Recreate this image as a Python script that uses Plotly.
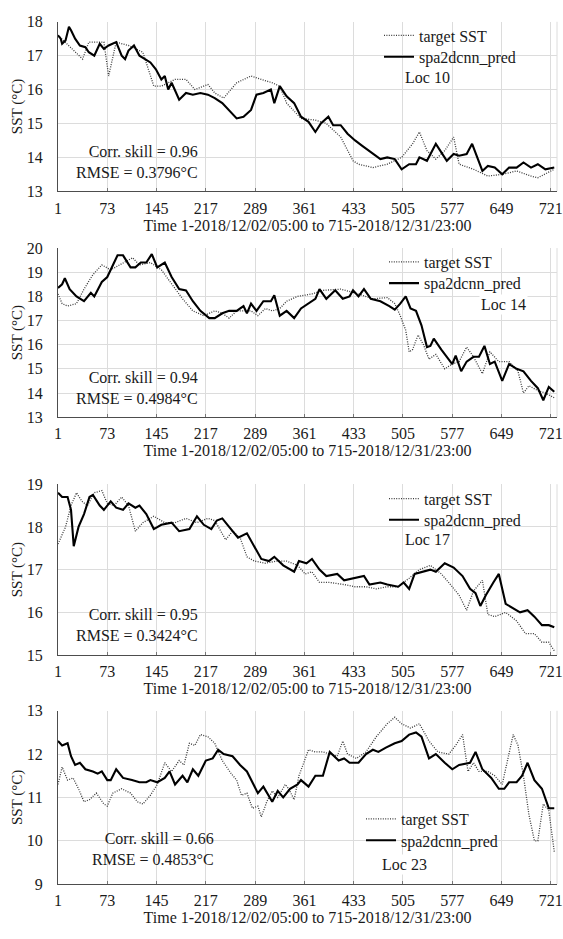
import plotly.graph_objects as go

# ---------------- data ----------------
x_ticks = [1, 73, 145, 217, 289, 361, 433, 505, 577, 649, 721]
x_title = "Time 1-2018/12/02/05:00 to 715-2018/12/31/23:00"

loc_names = ["Loc 10", "Loc 14", "Loc 17", "Loc 23"]
corr_skill = ["0.96", "0.94", "0.95", "0.66"]
rmse = ["0.3796", "0.4984", "0.3424", "0.4853"]
y_ranges = [[13, 18], [13, 20], [15, 19], [9, 13]]

# Loc 10
loc10_target_t = [1, 10, 37, 46, 68, 75, 86, 104, 125, 141, 152, 172, 188, 201, 220, 230, 243, 262, 283, 298, 314, 325, 335, 356, 377, 393, 414, 432, 440, 461, 482, 503, 519, 529, 540, 553, 566, 579, 587, 608, 629, 650, 671, 692, 702, 726]
loc10_target = [17.6, 17.42, 16.9, 17.4, 17.4, 16.4, 17.4, 17.3, 17.1, 16.1, 16.1, 16.3, 16.3, 16.0, 16.15, 15.9, 15.75, 16.2, 16.4, 16.3, 16.2, 16.1, 15.6, 15.15, 15.1, 15.0, 14.6, 13.9, 13.8, 13.7, 13.8, 14.0, 14.4, 14.75, 14.2, 13.95, 14.2, 14.6, 13.8, 13.65, 13.45, 13.5, 13.6, 13.45, 13.4, 13.65]
loc10_pred_t = [1, 5, 7, 12, 17, 20, 26, 33, 41, 46, 54, 62, 68, 75, 86, 94, 99, 104, 112, 120, 136, 144, 152, 157, 162, 167, 178, 188, 198, 209, 220, 230, 241, 251, 262, 272, 283, 291, 301, 312, 317, 325, 335, 346, 356, 367, 377, 385, 396, 403, 414, 424, 435, 445, 461, 472, 482, 493, 503, 514, 524, 529, 540, 553, 569, 579, 587, 598, 606, 613, 621, 629, 639, 650, 660, 671, 681, 692, 702, 713, 726]
loc10_pred = [17.6, 17.5, 17.35, 17.45, 17.85, 17.75, 17.5, 17.3, 17.25, 17.1, 17.0, 17.35, 17.2, 17.3, 17.4, 17.0, 16.9, 17.15, 17.3, 17.0, 16.8, 16.6, 16.3, 16.4, 16.0, 16.2, 15.7, 15.9, 15.85, 15.9, 15.85, 15.75, 15.6, 15.4, 15.15, 15.2, 15.4, 15.85, 15.9, 16.0, 15.6, 16.1, 15.8, 15.6, 15.2, 15.05, 14.75, 15.0, 15.2, 14.95, 14.95, 14.7, 14.5, 14.35, 14.1, 13.95, 14.0, 13.95, 13.65, 13.8, 13.8, 14.0, 13.9, 14.4, 13.9, 14.1, 14.05, 14.1, 14.4, 14.0, 13.6, 13.75, 13.7, 13.5, 13.7, 13.7, 13.85, 13.7, 13.8, 13.65, 13.7]

# Loc 14
loc14_target_t = [1, 7, 15, 28, 39, 52, 65, 78, 94, 110, 120, 136, 152, 167, 183, 198, 214, 230, 241, 251, 262, 283, 293, 304, 314, 325, 335, 351, 372, 388, 414, 440, 461, 482, 493, 501, 509, 514, 519, 527, 535, 543, 553, 566, 577, 587, 598, 608, 621, 632, 645, 660, 673, 681, 689, 702, 713, 726]
loc14_target = [18.1, 17.7, 17.6, 17.7, 18.3, 18.9, 19.3, 19.1, 19.35, 19.6, 19.3, 19.4, 19.1, 18.5, 17.9, 17.4, 17.2, 17.4, 17.3, 17.1, 17.4, 17.4, 17.2, 17.5, 17.4, 17.5, 17.8, 18.0, 18.1, 18.25, 18.3, 18.1, 17.9, 17.95, 17.7, 17.2, 16.6, 15.7, 15.8, 16.4, 16.0, 15.4, 15.6, 15.0, 15.2, 15.3, 15.9, 15.5, 14.8, 15.7, 15.3, 15.3, 14.9, 14.0, 14.3, 14.1, 14.0, 13.8]
loc14_pred_t = [1, 7, 11, 18, 28, 39, 49, 54, 65, 73, 83, 88, 96, 107, 114, 122, 130, 138, 146, 157, 167, 178, 188, 198, 209, 222, 230, 241, 251, 262, 272, 277, 283, 291, 301, 312, 317, 325, 335, 346, 356, 367, 377, 383, 393, 406, 417, 427, 432, 440, 448, 458, 472, 485, 493, 501, 509, 516, 524, 532, 540, 545, 550, 561, 569, 577, 582, 590, 598, 608, 616, 624, 632, 639, 650, 660, 671, 681, 692, 702, 710, 718, 726]
loc14_pred = [18.35, 18.5, 18.75, 18.3, 18.0, 17.8, 18.15, 18.0, 18.6, 18.8, 19.4, 19.7, 19.7, 19.2, 19.2, 19.4, 19.4, 19.75, 19.2, 19.4, 18.8, 18.3, 18.25, 17.8, 17.4, 17.1, 17.1, 17.3, 17.4, 17.4, 17.6, 17.3, 17.7, 17.4, 17.8, 17.8, 18.05, 17.2, 17.4, 17.1, 17.5, 17.7, 17.9, 18.3, 17.9, 18.25, 17.9, 18.0, 18.25, 18.0, 18.3, 17.9, 17.8, 17.6, 17.45, 17.7, 18.0, 17.5, 17.4, 16.8, 15.9, 15.95, 16.25, 15.8, 15.5, 15.2, 15.55, 14.9, 15.3, 15.5, 15.5, 15.95, 15.2, 15.3, 14.5, 15.2, 15.0, 14.9, 14.5, 14.2, 13.7, 14.25, 14.05]

# Loc 17
loc17_target_t = [1, 7, 12, 20, 28, 36, 44, 54, 65, 73, 83, 94, 104, 114, 125, 141, 157, 172, 188, 204, 220, 230, 246, 256, 267, 277, 288, 304, 320, 335, 351, 362, 372, 383, 398, 419, 435, 451, 466, 482, 498, 514, 529, 545, 561, 577, 587, 598, 608, 621, 629, 639, 655, 671, 684, 697, 708, 718, 726]
loc17_target = [17.6, 17.8, 18.0, 18.5, 18.8, 18.6, 18.5, 18.8, 18.85, 18.55, 18.5, 18.7, 18.5, 17.9, 18.1, 18.25, 18.1, 18.1, 18.2, 18.1, 18.2, 18.15, 17.7, 17.9, 17.75, 17.3, 17.2, 17.15, 17.2, 17.2, 17.1, 16.9, 16.95, 16.7, 16.7, 16.65, 16.6, 16.6, 16.55, 16.6, 16.6, 16.8, 17.0, 17.1, 16.9, 16.6, 16.4, 16.05, 16.5, 16.75, 15.95, 15.9, 16.0, 15.8, 15.5, 15.5, 15.3, 15.3, 15.1]
loc17_pred_t = [1, 7, 15, 20, 24, 31, 39, 47, 52, 62, 68, 78, 86, 96, 104, 114, 120, 130, 141, 152, 167, 178, 193, 204, 214, 225, 233, 241, 251, 264, 277, 288, 298, 309, 317, 330, 346, 353, 364, 372, 383, 393, 409, 419, 435, 448, 456, 472, 482, 498, 506, 514, 522, 535, 545, 553, 566, 579, 592, 603, 611, 618, 626, 637, 645, 655, 666, 676, 687, 697, 708, 718, 726]
loc17_pred = [18.8, 18.7, 18.7, 18.4, 17.55, 18.0, 18.3, 18.7, 18.75, 18.5, 18.4, 18.6, 18.45, 18.4, 18.55, 18.45, 18.5, 18.3, 17.95, 18.05, 18.1, 17.9, 17.95, 18.25, 18.05, 17.95, 18.15, 18.2, 18.0, 17.75, 17.85, 17.55, 17.25, 17.2, 17.3, 17.1, 16.95, 17.2, 17.15, 17.25, 17.0, 16.85, 16.9, 16.75, 16.8, 16.85, 16.65, 16.7, 16.65, 16.6, 16.7, 16.55, 16.9, 16.95, 17.0, 16.95, 17.15, 17.05, 16.85, 16.55, 16.45, 16.15, 16.4, 16.7, 16.9, 16.2, 16.1, 16.0, 16.05, 15.9, 15.7, 15.7, 15.65]

# Loc 23
loc23_target_t = [1, 7, 15, 23, 31, 39, 47, 57, 68, 73, 81, 94, 107, 117, 125, 136, 146, 157, 167, 178, 185, 193, 201, 209, 220, 230, 241, 254, 262, 269, 277, 285, 293, 298, 306, 314, 322, 333, 338, 346, 353, 367, 377, 388, 398, 409, 417, 424, 437, 451, 466, 482, 493, 503, 516, 529, 543, 556, 572, 582, 592, 600, 608, 616, 629, 639, 650, 658, 666, 673, 681, 689, 697, 702, 710, 718, 726]
loc23_target = [11.3, 11.7, 11.4, 11.45, 11.2, 10.9, 10.95, 11.1, 10.85, 10.8, 11.1, 11.2, 11.1, 10.9, 10.85, 11.05, 11.3, 11.8, 11.6, 11.85, 11.75, 12.25, 12.2, 12.45, 12.4, 12.25, 11.85, 11.55, 11.4, 11.05, 11.1, 10.75, 10.8, 10.55, 10.9, 11.15, 11.0, 11.3, 11.2, 10.95, 11.5, 12.1, 12.05, 12.05, 12.0, 11.95, 12.3, 12.0, 11.9, 12.05, 12.4, 12.7, 12.85, 12.7, 12.6, 12.7, 12.3, 12.05, 12.0, 12.2, 12.45, 11.6, 11.8, 11.6, 11.6, 11.5, 11.3, 11.9, 12.45, 12.2, 11.5, 10.6, 10.0, 10.0, 10.85, 10.7, 9.75]
loc23_pred_t = [1, 7, 15, 20, 26, 33, 41, 52, 59, 65, 73, 78, 86, 96, 109, 120, 130, 136, 146, 157, 164, 172, 183, 190, 198, 206, 217, 227, 235, 243, 256, 267, 277, 285, 293, 301, 314, 322, 330, 340, 351, 356, 367, 377, 388, 398, 411, 419, 427, 440, 451, 461, 469, 480, 493, 503, 514, 524, 532, 543, 553, 566, 577, 587, 603, 611, 621, 634, 645, 653, 660, 671, 679, 687, 697, 708, 718, 726]
loc23_pred = [12.3, 12.2, 12.25, 11.95, 11.75, 11.8, 11.65, 11.6, 11.55, 11.6, 11.4, 11.4, 11.65, 11.45, 11.4, 11.35, 11.35, 11.4, 11.35, 11.45, 11.6, 11.3, 11.5, 11.35, 11.65, 11.5, 11.85, 11.9, 12.1, 12.0, 11.95, 11.75, 11.6, 11.35, 11.1, 11.25, 10.9, 11.15, 11.0, 11.2, 11.3, 11.4, 11.25, 11.5, 11.5, 12.05, 11.85, 11.9, 11.8, 11.8, 12.0, 12.1, 12.05, 12.15, 12.25, 12.3, 12.45, 12.5, 12.4, 11.9, 12.0, 11.8, 11.65, 11.75, 11.8, 12.05, 11.65, 11.45, 11.2, 11.2, 11.35, 11.35, 11.5, 11.8, 11.4, 11.2, 10.75, 10.75]

targets = [(loc10_target_t, loc10_target), (loc14_target_t, loc14_target),
           (loc17_target_t, loc17_target), (loc23_target_t, loc23_target)]
preds = [(loc10_pred_t, loc10_pred), (loc14_pred_t, loc14_pred),
         (loc17_pred_t, loc17_pred), (loc23_pred_t, loc23_pred)]

# ---------------- layout ----------------
W, H = 563, 939
ML, MR = 58, 6
PW = W - ML - MR
FONT = "Liberation Serif"
TXT = "#1a1a1a"
GRID = "#dcdcdc"


def px_x(px):
    return (px - ML) / PW


def px_y(py):
    return 1 - py / H


# panel pixel extents (top, bottom)
panel_px = [(14, 186.7), (244.5, 416.7), (485, 659), (715.7, 892.3)]
# legend: text start x (px), row centre y for target / pred (px)
legend_px = [(423, 30, 51.7), (428, 260.7, 282.3), (428, 501.7, 523.3), (405, 828, 849.7)]
loc_px = [(403, 75), (479, 305.7), (403, 545), (380, 876)]
# stats: right edge x, centre y (px)
stat_px = [(200, 160.7), (200, 391.2), (200, 632.3), (216, 860)]
# white backing box behind stats: (x0 px, x1 px, top px)
box_px = [(59, 204, 134), (59, 203, 367), (59, 203, 610), (76, 219, 838)]

fig = go.Figure()
layout = dict(width=W, height=H, margin=dict(l=ML, r=MR, t=0, b=0),
              paper_bgcolor="white", plot_bgcolor="white",
              font=dict(family=FONT, size=16, color=TXT),
              showlegend=True)
annotations = []
shapes = []

for i in range(4):
    ax = "" if i == 0 else str(i + 1)
    lg_t = f"legend{2 * i + 1}" if i > 0 else "legend"
    lg_p = f"legend{2 * i + 2}"
    tx, ty = targets[i]
    pxs, pys = preds[i]
    fig.add_trace(go.Scatter(x=tx, y=ty, mode="lines", name="target SST",
                             line=dict(color="#3a3a3a", width=1.3, dash="1px,1.4px"),
                             xaxis="x" + ax, yaxis="y" + ax, legend=lg_t))
    fig.add_trace(go.Scatter(x=pxs, y=pys, mode="lines", name="spa2dcnn_pred",
                             line=dict(color="black", width=2.1),
                             xaxis="x" + ax, yaxis="y" + ax, legend=lg_p))
    top, bot = panel_px[i]
    dom = [px_y(bot), px_y(top)]
    layout["xaxis" + ax] = dict(range=[1, 730], tickvals=x_ticks, domain=[0, 1],
                                anchor="y" + ax, showgrid=True, gridcolor=GRID,
                                gridwidth=1,
                                showline=True, linecolor="#4d4d4d", linewidth=1.2,
                                ticks="inside", ticklen=3, tickcolor="#777",
                                ticklabelstandoff=2,
                                zeroline=False,
                                title=dict(text=x_title, standoff=2,
                                           font=dict(family=FONT, size=16, color=TXT)),
                                tickfont=dict(family=FONT, size=16, color=TXT))
    layout["yaxis" + ax] = dict(range=y_ranges[i], dtick=1, domain=dom,
                                anchor="x" + ax, showgrid=True, gridcolor=GRID,
                                showline=True, linecolor="#4d4d4d", linewidth=1.2,
                                zeroline=False, ticks="", ticklabelstandoff=11,
                                title=dict(text="SST (°C)", standoff=0,
                                           font=dict(family=FONT, size=15, color=TXT)),
                                tickfont=dict(family=FONT, size=16, color=TXT))
    lx, ly_t, ly_p = legend_px[i]
    for lg, ly in ((lg_t, ly_t), (lg_p, ly_p)):
        layout[lg] = dict(x=px_x(lx - 44), y=px_y(ly - 2), xanchor="left", yanchor="middle",
                          bgcolor="rgba(255,255,255,0)",
                          font=dict(family=FONT, size=16, color=TXT),
                          tracegroupgap=0, itemwidth=30, borderwidth=0)
    cx, cy = loc_px[i]
    annotations.append(dict(text=loc_names[i], x=px_x(cx), y=px_y(cy - 4),
                            xref="paper", yref="paper",
                            xanchor="left", yanchor="middle", showarrow=False,
                            bgcolor="white", borderpad=1,
                            font=dict(family=FONT, size=16, color=TXT)))
    sx, sy = stat_px[i]
    annotations.append(dict(text=f"Corr. skill = {corr_skill[i]}<br>RMSE = {rmse[i]}°C",
                            x=px_x(sx), y=px_y(sy - 4), xref="paper", yref="paper",
                            align="right", xanchor="right", yanchor="middle",
                            showarrow=False, font=dict(family=FONT, size=16, color=TXT)))
    bx0, bx1, btop = box_px[i]
    shapes.append(dict(type="rect", xref="paper", yref="paper",
                       x0=px_x(bx0), x1=px_x(bx1), y0=px_y(bot - 1.5), y1=px_y(btop),
                       fillcolor="white", line=dict(width=0), layer="between"))
    # light frame line on the right edge of each panel
    shapes.append(dict(type="line", xref="paper", yref="paper",
                       x0=1, x1=1, y0=dom[0], y1=dom[1], line=dict(color=GRID, width=1),
                       layer="between"))

layout["annotations"] = annotations
layout["shapes"] = shapes
fig.update_layout(**layout)
fig.write_html("out.html")
